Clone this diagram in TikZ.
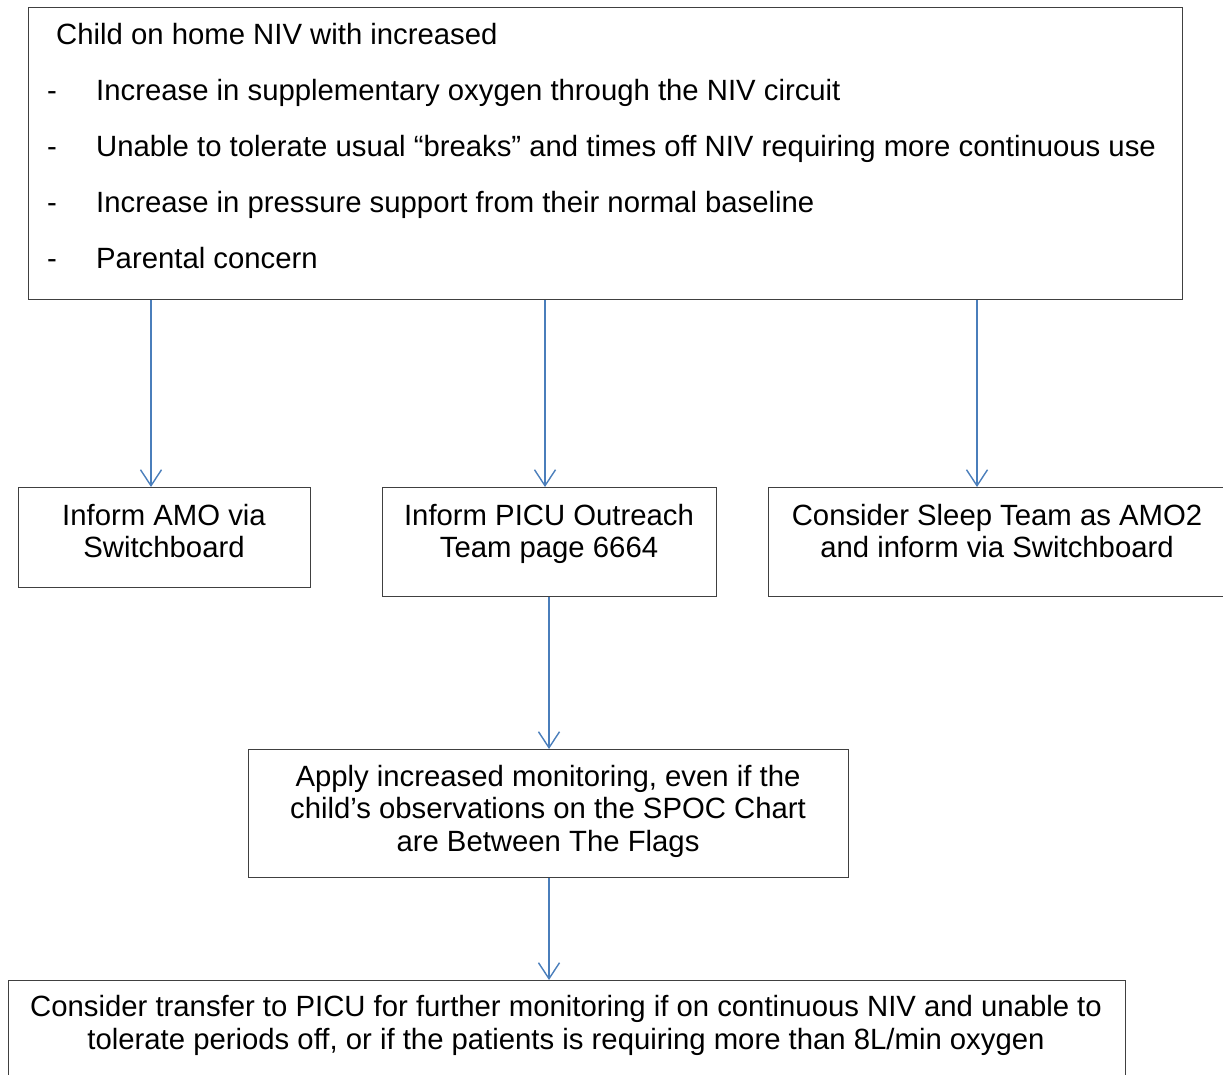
\documentclass[tikz,border=0pt]{standalone}
\usepackage{fontspec}
\setmainfont{Liberation Sans}
\usetikzlibrary{arrows.meta}
\definecolor{arrowblue}{HTML}{4A7EBB}
\definecolor{boxgray}{HTML}{404040}
\tikzset{
  box/.style={draw=boxgray, line width=1.4pt, inner sep=0pt},
  txt/.style={font=\fontsize{29.3}{32.5}\selectfont, align=center, inner sep=0pt, anchor=base},
  ltxt/.style={font=\fontsize{29.3}{33}\selectfont, anchor=base west, inner sep=0pt},
  flow/.style={draw=arrowblue, line width=1.4pt, -{Straight Barb[length=16pt,width=21pt,line width=1.4pt]}},
}
\begin{document}
\begin{tikzpicture}[x=1pt,y=-1pt]
\useasboundingbox (0,0) rectangle (1223,1074);
\clip (0,0) rectangle (1223,1074);
% top box
\node[box, anchor=north west, minimum width=1154pt, minimum height=292pt] (top) at (28,7) {};
\node[ltxt] (t0) at (56,44) {Child on home NIV with increased};
\node[ltxt] (d1) at (47,100.5) {-};
\node[ltxt] (t1) at (96,100.5) {Increase in supplementary oxygen through the NIV circuit};
\node[ltxt] (d2) at (47,156.5) {-};
\node[ltxt] (t2) at (96,156.5) {Unable to tolerate usual “breaks” and times off NIV requiring more continuous use};
\node[ltxt] (d3) at (47,212.5) {-};
\node[ltxt] (t3) at (96,212.5) {Increase in pressure support from their normal baseline};
\node[ltxt] (d4) at (47,268.5) {-};
\node[ltxt] (t4) at (96,268.5) {Parental concern};
% second row (text nodes placed by the baseline of their last line)
\node[box, anchor=north west, minimum width=292pt, minimum height=100pt] (amo) at (18,487) {};
\node[txt] (amot) at (164,557.5) {Inform AMO via\\Switchboard};
\node[box, anchor=north west, minimum width=334pt, minimum height=109pt] (picu) at (382,487) {};
\node[txt] (picut) at (549,557.5) {Inform PICU Outreach\\Team page 6664};
\node[box, anchor=north west, minimum width=470pt, minimum height=109pt] (sleep) at (768,487) {};
\node[txt] (sleept) at (997,557.5) {Consider Sleep Team as AMO2\\and inform via Switchboard};
% monitoring
\node[box, anchor=north west, minimum width=600pt, minimum height=128pt] (mon) at (248,749) {};
\node[txt] (mont) at (548,851) {Apply increased monitoring, even if the\\child’s observations on the SPOC Chart\\are Between The Flags};
% transfer
\node[box, anchor=north west, minimum width=1117pt, minimum height=120pt] (trans) at (8,980) {};
\node[txt] (transt) at (566,1049) {Consider transfer to PICU for further monitoring if on continuous NIV and unable to\\tolerate periods off, or if the patients is requiring more than 8L/min oxygen};
% connectors
\draw[flow] (top.south -| 151,0) -- (amo.north -| 151,0);
\draw[flow] (top.south -| 545,0) -- (picu.north -| 545,0);
\draw[flow] (top.south -| 977,0) -- (sleep.north -| 977,0);
\draw[flow] (picu.south -| 549,0) -- (mon.north -| 549,0);
\draw[flow] (mon.south -| 549,0) -- (trans.north -| 549,0);
\end{tikzpicture}
\end{document}
